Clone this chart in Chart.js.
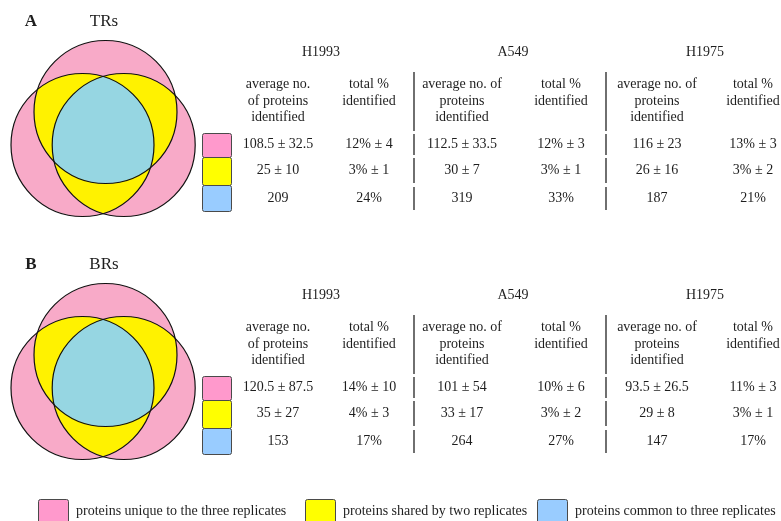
<!DOCTYPE html>
<html>
<head>
<meta charset="utf-8">
<script src="https://cdn.jsdelivr.net/npm/chart.js@4.4.0/dist/chart.umd.min.js"></script>
<style>
  html, body { margin: 0; padding: 0; background: #fff; }
  #wrap { width: 781px; height: 521px; position: relative; }
</style>
</head>
<body>
<div id="wrap"><canvas id="fig"></canvas></div>
<script>
// --- Data ---
const panelLetters = ['A', 'B'];
const replicateTypes = ['TRs', 'BRs'];
const cellLines = ['H1993', 'A549', 'H1975'];
const avgHeaders = [
    ['average no.', 'of proteins', 'identified'],
    ['average no. of', 'proteins', 'identified'],
    ['average no. of', 'proteins', 'identified']
];
const pctHeader = ['total %', 'identified'];
const categories = [
    'proteins unique to the three replicates',
    'proteins shared by two replicates',
    'proteins common to three replicates'
];

// technical replicates, per cell line: [unique, shared, common]
const trAvg = [[108.5, 25, 209], [112.5, 30, 319], [116, 26, 187]];
const trAvgSd = [[32.5, 10, null], [33.5, 7, null], [23, 16, null]];
const trPct = [[12, 3, 24], [12, 3, 33], [13, 3, 21]];
const trPctSd = [[4, 1, null], [3, 1, null], [3, 2, null]];

// biological replicates
const brAvg = [[120.5, 35, 153], [101, 33, 264], [93.5, 29, 147]];
const brAvgSd = [[87.5, 27, null], [54, 17, null], [26.5, 8, null]];
const brPct = [[14, 4, 17], [10, 3, 27], [11, 3, 17]];
const brPctSd = [[10, 3, null], [6, 2, null], [3, 1, null]];

// --- Layout / style ---
const FONT = '"Liberation Serif", "Times New Roman", serif';
const TEXT = '#1e1e1e';
const vennFill = ['#f8aac8', '#fff200', '#96d6e2'];
const swatchFill = ['#ff99cc', '#ffff00', '#99ccff'];
const panelShift = [0, 243];
const vennCenters = [[105.5, 112], [82.5, 145], [123.7, 145]];
const vennR = 71.5;
const lineTitleX = [321, 513, 705];
const colX = [[278, 369], [462, 561], [657, 753]];
const headerY = [84, 101, 117];
const rowY = [144, 170, 198];
const sepX = [414, 606];
const sepSegs = [[72, 131], [134, 155], [158, 183], [187, 210]];
const swatchRows = [[133, 157], [157, 185], [185, 211]];
const legendX = [38, 305, 537];

const fmt = (v, sd, pct) => {
    const s = pct ? v + '%' : String(v);
    return sd == null ? s : s + ' \u00b1 ' + sd;
};

const figurePlugin = {
    id: 'figure',
    afterDraw(chart) {
        const { ctx, scales: { x, y } } = chart;
        const px = v => x.getPixelForValue(v);
        const py = v => y.getPixelForValue(v);
        const rPx = px(vennR) - px(0);

        const circle = (c, dy) => {
            ctx.beginPath();
            ctx.arc(px(c[0]), py(c[1] + dy), rPx, 0, Math.PI * 2);
        };
        const text = (s, cx, cy, size, bold, align) => {
            ctx.font = (bold ? 'bold ' : '') + size + 'px ' + FONT;
            ctx.fillStyle = TEXT;
            ctx.textAlign = align || 'center';
            ctx.textBaseline = 'middle';
            ctx.fillText(s, px(cx), py(cy));
        };
        const box = (x0, y0, x1, y1, fill) => {
            ctx.beginPath();
            ctx.roundRect(px(x0) + 0.5, py(y0) + 0.5, px(x1) - px(x0), py(y1) - py(y0), 2);
            ctx.fillStyle = fill;
            ctx.fill();
            ctx.strokeStyle = '#4a4a4a';
            ctx.lineWidth = 1;
            ctx.stroke();
        };

        ctx.save();
        panelLetters.forEach((letter, p) => {
            const dy = panelShift[p];
            const avg = p === 0 ? trAvg : brAvg;
            const avgSd = p === 0 ? trAvgSd : brAvgSd;
            const pct = p === 0 ? trPct : brPct;
            const pctSd = p === 0 ? trPctSd : brPctSd;

            text(letter, 31, 22 + dy, 17, true);
            text(replicateTypes[p], 104, 22 + dy, 17, false);

            // venn: pink union, yellow pair overlaps, blue triple overlap
            vennCenters.forEach(c => { circle(c, dy); ctx.fillStyle = vennFill[0]; ctx.fill(); });
            for (let i = 0; i < 3; i++) {
                for (let j = i + 1; j < 3; j++) {
                    ctx.save();
                    circle(vennCenters[i], dy); ctx.clip();
                    circle(vennCenters[j], dy); ctx.fillStyle = vennFill[1]; ctx.fill();
                    ctx.restore();
                }
            }
            ctx.save();
            circle(vennCenters[0], dy); ctx.clip();
            circle(vennCenters[1], dy); ctx.clip();
            circle(vennCenters[2], dy); ctx.fillStyle = vennFill[2]; ctx.fill();
            ctx.restore();
            ctx.strokeStyle = '#111';
            ctx.lineWidth = 1.2;
            vennCenters.forEach(c => { circle(c, dy); ctx.stroke(); });

            // row swatches
            swatchRows.forEach((r, k) => box(202, r[0] + dy, 231, r[1] + dy, swatchFill[k]));

            // table
            cellLines.forEach((name, l) => {
                text(name, lineTitleX[l], 52 + dy, 14, false);
                avgHeaders[l].forEach((h, k) => text(h, colX[l][0], headerY[k] + dy, 14, false));
                pctHeader.forEach((h, k) => text(h, colX[l][1], headerY[k] + dy, 14, false));
                rowY.forEach((ry, k) => {
                    text(fmt(avg[l][k], avgSd[l][k], false), colX[l][0], ry + dy, 14, false);
                    text(fmt(pct[l][k], pctSd[l][k], true), colX[l][1], ry + dy, 14, false);
                });
            });

            ctx.strokeStyle = '#333';
            ctx.lineWidth = 1.4;
            sepX.forEach(sx => {
                sepSegs.forEach(s => {
                    ctx.beginPath();
                    ctx.moveTo(px(sx), py(s[0] + dy));
                    ctx.lineTo(px(sx), py(s[1] + dy));
                    ctx.stroke();
                });
            });
        });

        // bottom legend
        categories.forEach((cat, k) => {
            box(legendX[k], 499, legendX[k] + 30, 524, swatchFill[k]);
            text(cat, legendX[k] + 38, 511, 14, false, 'left');
        });
        ctx.restore();
    }
};

new Chart(document.getElementById('fig'), {
    type: 'scatter',
    data: { datasets: [] },
    options: {
        responsive: true,
        maintainAspectRatio: false,
        animation: false,
        layout: { padding: 0 },
        plugins: { legend: { display: false }, tooltip: { enabled: false } },
        scales: {
            x: { display: false, min: 0, max: 781 },
            y: { display: false, min: 0, max: 521, reverse: true }
        }
    },
    plugins: [figurePlugin]
});
</script>
</body>
</html>
